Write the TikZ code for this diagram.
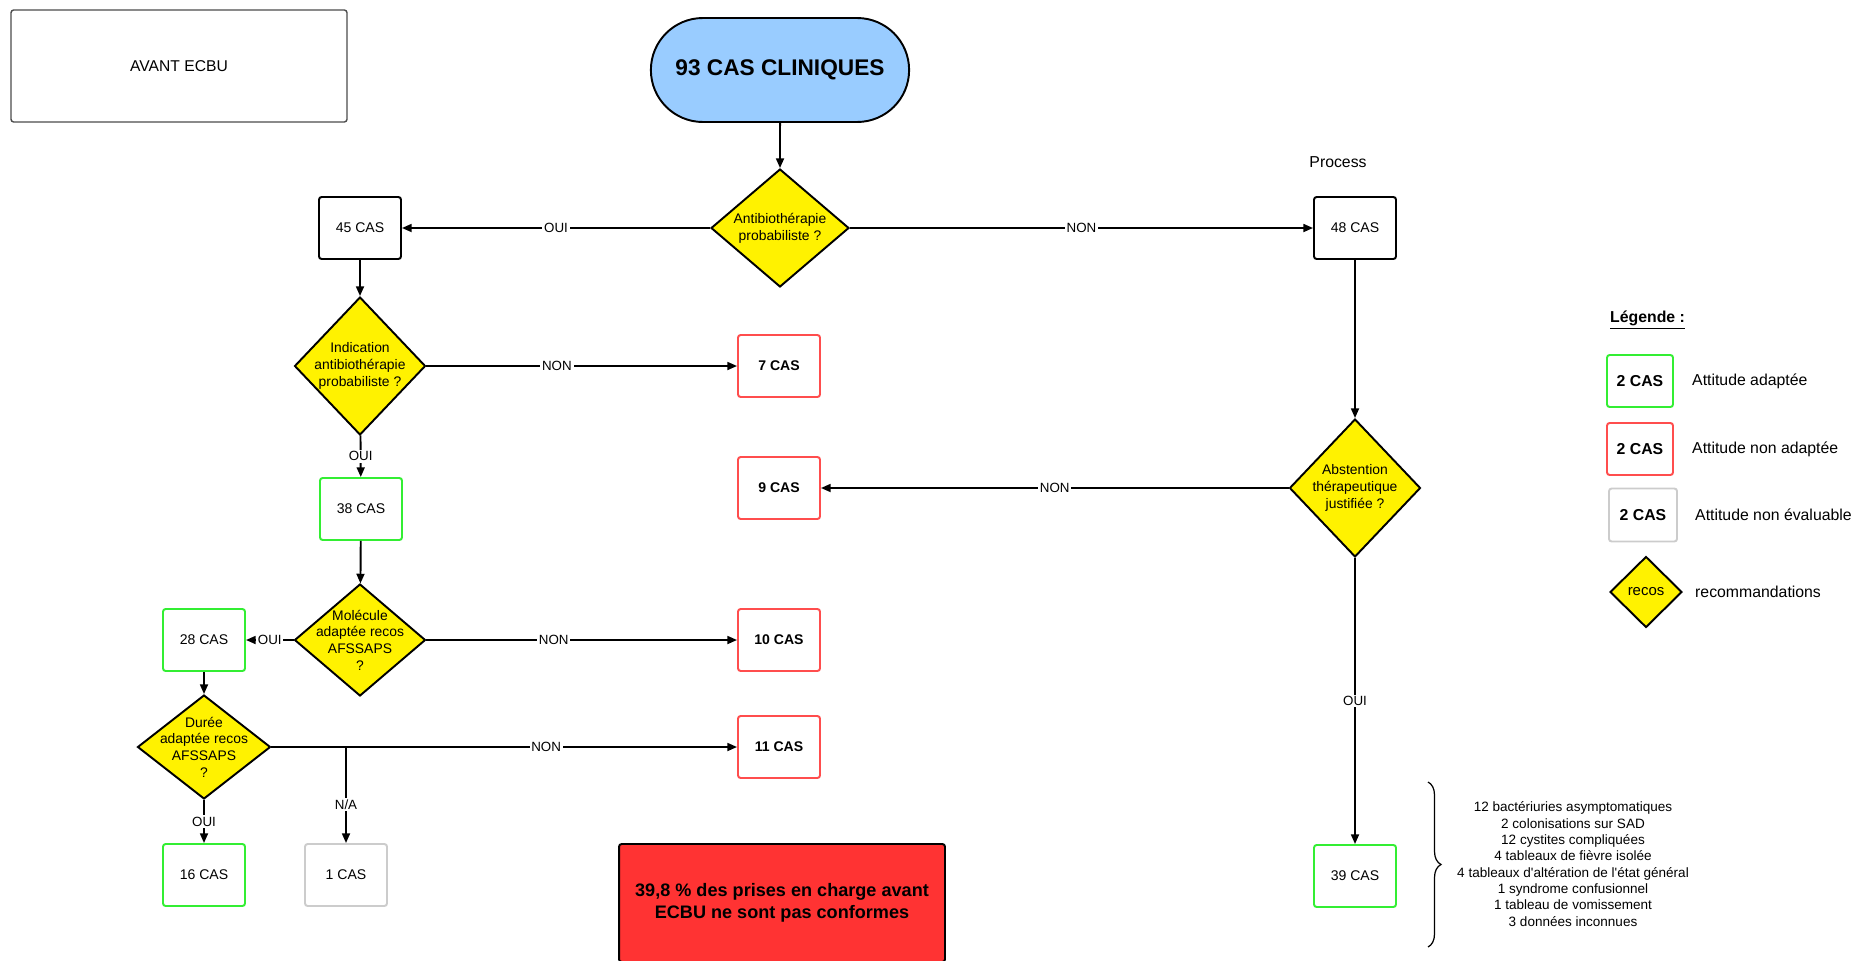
\documentclass[tikz,border=0pt]{standalone}
\usepackage{fontspec}
\setmainfont{Liberation Sans}[Ligatures=TeXOff]
\usetikzlibrary{shapes.geometric, shapes.misc, arrows.meta, decorations.pathreplacing}

\definecolor{casok}{HTML}{33EE33}
\definecolor{casko}{HTML}{FF4D4D}
\definecolor{casne}{HTML}{CCCCCC}
\definecolor{debut}{HTML}{99CCFF}
\definecolor{alerte}{HTML}{FF3333}

\tikzset{
  cas/.style={rectangle, draw, rounded corners=1.5pt, line width=1.1pt, fill=white,
    minimum width=1.64cm, minimum height=1.24cm, font=\fontsize{8}{10}\selectfont},
  ok/.style={cas, draw=casok},
  ko/.style={cas, draw=casko, font=\bfseries\fontsize{8}{10}\selectfont},
  ne/.style={cas, draw=casne},
  question/.style={diamond, draw, fill=yellow, line width=1.1pt, inner sep=0pt},
  qtext/.style={font=\fontsize{7.9}{9.5}\selectfont, align=center},
  arr/.style={-{Triangle[length=5.5pt,width=4.5pt]}, line width=1.1pt},
  choice/.style={fill=white, inner sep=1pt, font=\fontsize{7.6}{8}\selectfont},
  legtext/.style={anchor=west, font=\fontsize{9}{11}\selectfont},
}

\begin{document}
\begin{tikzpicture}[x=0.02cm, y=-0.02cm]
    \useasboundingbox (0,0) rectangle (1865,960);

    % Title and start
    \node [rectangle, draw=black!70, line width=0.8pt, rounded corners=1.5pt, minimum width=6.72cm, minimum height=2.24cm,
      font=\fontsize{8.9}{11}\selectfont] (titre) at (179,66) {AVANT ECBU};
    \node [rounded rectangle, draw, line width=1.1pt, fill=debut, minimum width=5.4cm, minimum height=2.08cm,
      font=\bfseries\fontsize{12.9}{15}\selectfont] (start) at (780,70) {93 CAS CLINIQUES};

    % Questions
    \node [question, minimum width=2.76cm, minimum height=2.36cm, label={[qtext]center:Antibiothérapie\\probabiliste ?}] (d1) at (780,228) {};
    \node [question, minimum width=2.62cm, minimum height=2.76cm, label={[qtext]center:Indication\\antibiothérapie\\probabiliste ?}] (d2) at (360,366) {};
    \node [question, minimum width=2.62cm, minimum height=2.24cm, label={[qtext]center:Molécule\\adaptée recos\\AFSSAPS\\?}] (d3) at (360,640) {};
    \node [question, minimum width=2.66cm, minimum height=2.08cm, label={[qtext]center:Durée\\adaptée recos\\AFSSAPS\\?}] (d4) at (204,747) {};
    \node [question, minimum width=2.62cm, minimum height=2.76cm, label={[qtext]center:Abstention\\thérapeutique\\justifiée ?}] (d5) at (1355,488) {};

    % Cases
    \node [cas] (c45) at (360,228) {45 CAS};
    \node [cas] (c48) at (1355,228) {48 CAS};
    \node [font=\fontsize{9}{11}\selectfont] (process) at (1338,162) {Process};
    \node [ko] (c7) at (779,366) {7 CAS};
    \node [ok] (c38) at (361,509) {38 CAS};
    \node [ko] (c9) at (779,488) {9 CAS};
    \node [ok] (c28) at (204,640) {28 CAS};
    \node [ko] (c10) at (779,640) {10 CAS};
    \node [ko] (c11) at (779,747) {11 CAS};
    \node [ok] (c16) at (204,875) {16 CAS};
    \node [ne] (c1) at (346,875) {1 CAS};
    \node [ok] (c39) at (1355,876) {39 CAS};
    \coordinate (na) at (346,747);

    % Arrows
    \draw[arr] (start) -- (d1);
    \draw[arr] (d1) -- node[choice] {OUI} (c45);
    \draw[arr] (d1) -- node[choice] {NON} (c48);
    \draw[arr] (c45) -- (d2);
    \draw[arr] (d2) -- node[choice, pos=0.42] {NON} (c7);
    \draw[arr] (d2) -- node[choice] {OUI} (c38);
    \draw[arr] (c38) -- (d3);
    \draw[arr] (d3) -- node[choice] {OUI} (c28);
    \draw[arr] (d3) -- node[choice, pos=0.41] {NON} (c10);
    \draw[arr] (c28) -- (d4);
    \draw[arr] (d4) -- node[choice, pos=0.59] {NON} (c11);
    \draw[arr] (d4) -- node[choice] {OUI} (c16);
    \draw[arr] (na) -- node[choice, pos=0.6] {N/A} (c1);
    \draw[arr] (c48) -- (d5);
    \draw[arr] (d5) -- node[choice] {NON} (c9);
    \draw[arr] (d5) -- node[choice] {OUI} (c39);

    % Conclusion
    \node [rectangle, draw, line width=1.1pt, rounded corners=1.5pt, fill=alerte, minimum width=6.52cm, minimum height=2.36cm,
      align=center, font=\bfseries\fontsize{10.3}{12.3}\selectfont] (concl) at (782,903)
      {39,8 \% des prises en charge avant\\ECBU ne sont pas conformes};

    % Details of the 39 cases
    \coordinate (acc1) at (1428,782);
    \coordinate (acc2) at (1428,947);
    \draw[line width=0.7pt, decorate, decoration={brace, amplitude=0.26cm}] (acc1) -- (acc2);
    \node [align=center, font=\fontsize{7.7}{9.3}\selectfont] (motifs) at (1573,864)
      {12 bactériuries asymptomatiques\\2 colonisations sur SAD\\12 cystites compliquées\\4 tableaux de fièvre isolée\\
       4 tableaux d'altération de l'état général\\1 syndrome confusionnel\\1 tableau de vomissement\\3 données inconnues};

    % Legend
    \node [anchor=west, font=\bfseries\fontsize{9}{11}\selectfont] (legende) at (1604,320) {\underline{Légende :}};
    \node [ok, minimum width=1.32cm, minimum height=1.04cm, font=\bfseries\fontsize{9}{11}\selectfont] (lok) at (1640,381) {2 CAS};
    \node [ko, minimum width=1.32cm, minimum height=1.04cm, font=\bfseries\fontsize{9}{11}\selectfont] (lko) at (1640,449) {2 CAS};
    \node [ne, minimum width=1.36cm, minimum height=1.06cm, font=\bfseries\fontsize{9}{11}\selectfont] (lne) at (1643,515) {2 CAS};
    \node [question, minimum width=1.44cm, minimum height=1.42cm, label={[qtext, font=\fontsize{8.5}{10}\selectfont]center:recos}] (lq) at (1646,592) {};
    \node [legtext] at (1686,381) {Attitude adaptée};
    \node [legtext] at (1686,449) {Attitude non adaptée};
    \node [legtext] at (1689,515) {Attitude non évaluable};
    \node [legtext] at (1689,592) {recommandations};
\end{tikzpicture}
\end{document}
